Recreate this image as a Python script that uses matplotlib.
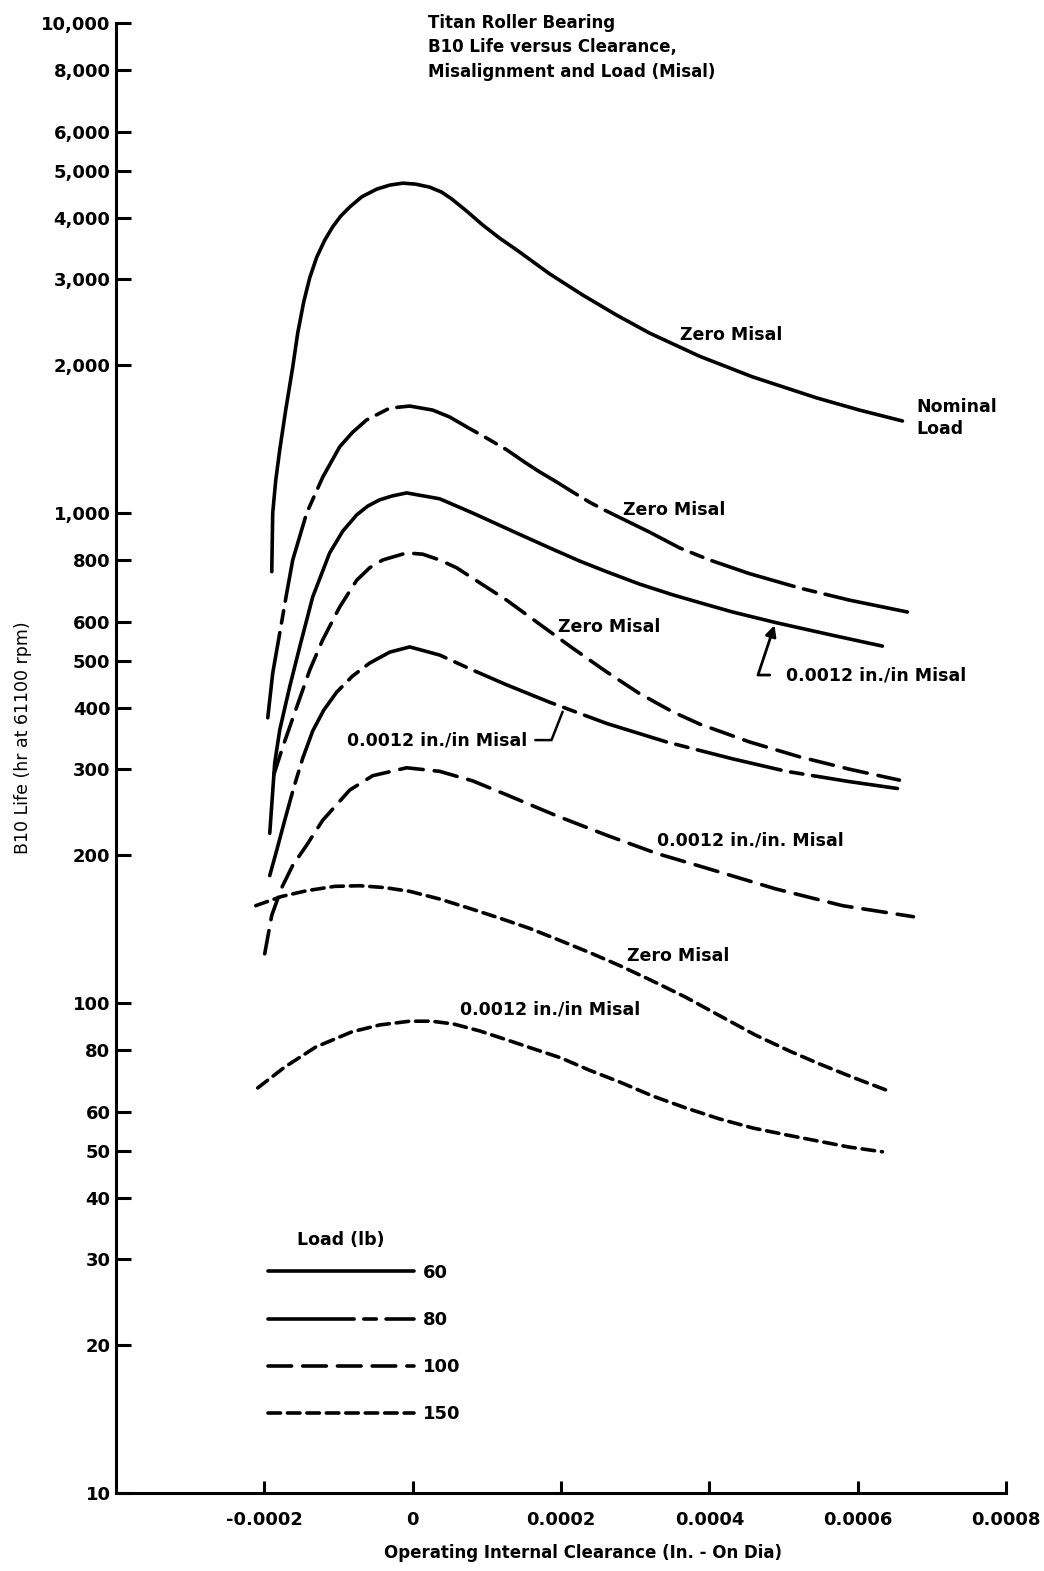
import numpy as np
import matplotlib.pyplot as plt
from matplotlib.lines import Line2D

plt.rcParams['font.family'] = 'DejaVu Sans'
plt.rcParams['lines.scale_dashes'] = False

# -----------------------------
# Data (clearance in units of 1e-4 in, life in hr)
# -----------------------------
zero60_x = [-1.900, -1.887, -1.846, -1.792, -1.712, -1.617, -1.550, -1.469, -1.388, -1.294, -1.186,
            -1.078, -0.970, -0.849, -0.687, -0.485, -0.310, -0.135, 0.040, 0.229, 0.391, 0.526,
            0.728, 0.943, 1.173, 1.402, 1.846, 2.291, 2.749, 3.194, 3.868, 4.582, 5.445, 6.024, 6.604]
zero60_y = [759, 1000, 1167, 1346, 1622, 1986, 2329, 2697, 3020, 3326, 3603,
            3838, 4036, 4211, 4418, 4581, 4668, 4711, 4690, 4624, 4517, 4375,
            4132, 3872, 3638, 3443, 3077, 2786, 2535, 2329, 2089, 1896, 1718, 1622, 1541]

mis60_x = [-1.927, -1.860, -1.792, -1.658, -1.523, -1.348, -1.119, -0.943, -0.755, -0.606, -0.445,
           -0.270, -0.081, 0.364, 0.809, 1.348, 1.846, 2.251, 2.615, 3.059, 3.504, 3.935, 4.313,
           4.906, 5.660, 6.334]
mis60_y = [222, 309, 361, 442, 533, 674, 829, 918, 991, 1033, 1064,
           1084, 1099, 1069, 1000, 918, 849, 798, 759, 716, 681, 652, 628,
           597, 563, 535]

zero80_x = [-1.954, -1.887, -1.792, -1.698, -1.617, -1.429, -1.213, -0.984, -0.809, -0.620, -0.310,
            -0.040, 0.270, 0.499, 0.728, 0.997, 1.267, 1.509, 1.712, 1.941, 2.156, 2.385, 2.615,
            3.194, 3.598, 4.003, 4.542, 5.216, 5.890, 6.671]
zero80_y = [382, 471, 569, 687, 802, 1000, 1183, 1365, 1462, 1549, 1637,
            1653, 1622, 1570, 1499, 1422, 1346, 1270, 1213, 1157, 1104, 1052, 1009,
            914, 849, 802, 752, 703, 664, 628]

mis80_x = [-1.927, -1.833, -1.725, -1.604, -1.482, -1.348, -1.199, -1.024, -0.809, -0.580, -0.310,
           -0.040, 0.364, 0.809, 1.267, 1.846, 2.615, 3.423, 4.313, 5.040, 5.890, 6.536]
mis80_y = [182, 205, 236, 275, 316, 359, 396, 431, 465, 494, 520,
           533, 513, 478, 446, 411, 372, 341, 315, 297, 283, 274]

zero100_x = [-1.873, -1.752, -1.563, -1.388, -1.213, -0.984, -0.755, -0.580, -0.404, -0.081, 0.135,
             0.364, 0.593, 0.809, 1.267, 1.712, 2.156, 2.615, 3.059, 3.504, 3.868, 4.542, 5.216,
             5.890, 6.563]
zero100_y = [292, 333, 402, 478, 551, 643, 729, 773, 802, 829, 824,
             802, 773, 736, 664, 593, 530, 474, 428, 393, 371, 341, 318,
             300, 285]

mis100_x = [-1.995, -1.900, -1.765, -1.617, -1.429, -1.213, -0.849, -0.539, -0.081, 0.364,
            0.809, 1.267, 1.941, 2.615, 3.288, 3.935, 4.892, 5.795, 6.752]
mis100_y = [126, 151, 172, 191, 210, 236, 272, 291, 302, 297,
            284, 266, 241, 220, 202, 189, 171, 158, 150]

zero150_x = [-2.116, -1.765, -1.429, -1.051, -0.714, -0.377, -0.040, 0.364, 0.768, 1.173, 1.577,
             1.995, 2.399, 2.803, 3.208, 3.679, 4.151, 4.623, 5.081, 5.485, 5.957, 6.388]
zero150_y = [158, 165, 169.5, 173, 173.5, 172, 169, 163, 156, 149, 142,
             134, 126.5, 119, 111.4, 102.8, 94, 86, 79.8, 75.1, 70.3, 66.4]

mis150_x = [-2.089, -1.725, -1.307, -0.822, -0.445, -0.040, 0.256, 0.553, 0.903, 1.280, 1.644,
            1.995, 2.385, 2.790, 3.235, 3.679, 4.137, 4.582, 5.040, 5.485, 5.889, 6.334]
mis150_y = [67.1, 74, 81.3, 87.3, 90.2, 91.8, 91.8, 90.6, 87.7, 84, 80.5,
            77.3, 72.9, 69.0, 64.6, 61.1, 58.0, 55.6, 53.8, 52.2, 50.8, 49.7]

loads = [60, 80, 100, 150]
x_ticks = [-0.0002, 0, 0.0002, 0.0004, 0.0006, 0.0008]
x_labels = ['-0.0002', '0', '0.0002', '0.0004', '0.0006', '0.0008']
y_ticks = [10, 20, 30, 40, 50, 60, 80, 100, 200, 300, 400, 500, 600, 800,
           1000, 2000, 3000, 4000, 5000, 6000, 8000, 10000]

# line style per load (dash lengths in points)
styles = {60: '-', 80: (0, (62, 7, 9, 7)), 100: (0, (17, 8)), 150: (0, (9, 5))}

curves = [
    (zero60_x, zero60_y, 60), (mis60_x, mis60_y, 60),
    (zero80_x, zero80_y, 80), (mis80_x, mis80_y, 80),
    (zero100_x, zero100_y, 100), (mis100_x, mis100_y, 100),
    (zero150_x, zero150_y, 150), (mis150_x, mis150_y, 150),
]

# -----------------------------
# Figure
# -----------------------------
fig = plt.figure(figsize=(10.44, 15.71), dpi=100)
ax = fig.add_axes([116 / 1044, 1 - 1493 / 1571, 890 / 1044, 1470 / 1571])

LW = 2.6
for xs, ys, load in curves:
    ax.plot(np.array(xs) * 1e-4, ys, color='black', lw=LW, linestyle=styles[load],
            solid_capstyle='round', dash_capstyle='round', solid_joinstyle='round')

ax.set_yscale('log')
ax.set_xlim(-0.0004, 0.0008)
ax.set_ylim(10, 10000)
ax.minorticks_off()
ax.set_yticks(y_ticks)
ax.set_yticklabels([f'{v:,}' for v in y_ticks])
ax.set_xticks(x_ticks)
ax.set_xticklabels(x_labels)

for s in ['top', 'right']:
    ax.spines[s].set_visible(False)
for s in ['left', 'bottom']:
    ax.spines[s].set_linewidth(2.2)

ax.tick_params(axis='y', direction='in', length=11, width=2.2, pad=4,
               labelsize=13)
ax.tick_params(axis='x', direction='in', length=9, width=2.2, pad=13,
               labelsize=13)
for lab in ax.get_xticklabels() + ax.get_yticklabels():
    lab.set_fontweight('bold')

# -----------------------------
# Text
# -----------------------------
fig.text(428 / 1044, 1 - 14 / 1571,
         'Titan Roller Bearing\nB10 Life versus Clearance,\nMisalignment and Load (Misal)',
         ha='left', va='top', fontsize=12, fontweight='bold', linespacing=1.45)
fig.text(23 / 1044, 1 - 738 / 1571, 'B10 Life (hr at 61100 rpm)', rotation=90,
         ha='center', va='center', fontsize=12.5)
fig.text(583 / 1044, 1 - 1553 / 1571, 'Operating Internal Clearance (In. - On Dia)',
         ha='center', va='center', fontsize=12, fontweight='bold')

lab_kw = dict(fontsize=12.5, fontweight='bold', ha='left', va='center')
ax.text(3.60e-4, 2307, 'Zero Misal', **lab_kw)
ax.text(6.79e-4, 1563, 'Nominal\nLoad', linespacing=1.35, **lab_kw)
ax.text(2.83e-4, 1014, 'Zero Misal', **lab_kw)
ax.text(1.954e-4, 585, 'Zero Misal', **lab_kw)
ax.text(3.288e-4, 215, '0.0012 in./in. Misal', **lab_kw)
ax.text(2.884e-4, 125, 'Zero Misal', **lab_kw)
ax.text(0.633e-4, 96.8, '0.0012 in./in Misal', **lab_kw)

ax.annotate('0.0012 in./in Misal', xy=(4.879e-4, 590), xytext=(5.04e-4, 467),
            arrowprops=dict(arrowstyle='-|>', color='black', lw=2,
                            connectionstyle='angle,angleA=180,angleB=71.6,rad=0',
                            relpos=(0, 0.5), shrinkA=10, shrinkB=0,
                            mutation_scale=16),
            **lab_kw)
ax.annotate('0.0012 in./in Misal', xy=(2.022e-4, 393), xytext=(-0.889e-4, 344),
            arrowprops=dict(arrowstyle='-', color='black', lw=1.8,
                            connectionstyle='angle,angleA=0,angleB=68.5,rad=0',
                            relpos=(1, 0.5), shrinkA=4, shrinkB=0),
            **lab_kw)

# legend
handles = [Line2D([], [], color='black', lw=LW, linestyle=styles[l],
                  solid_capstyle='round', dash_capstyle='round') for l in loads]
leg = ax.legend(handles, [str(l) for l in loads], loc='upper left',
                bbox_to_anchor=(0.1708, 0.156), frameon=False, borderpad=0,
                borderaxespad=0, handlelength=8.1, handletextpad=0.5,
                labelspacing=1.62, prop=dict(size=13, weight='bold'))
ax.text(0.2528, 0.1721, 'Load (lb)', transform=ax.transAxes, ha='center',
        va='center', fontsize=12.5, fontweight='bold')

fig.savefig('out.png', dpi=100, facecolor='white')
